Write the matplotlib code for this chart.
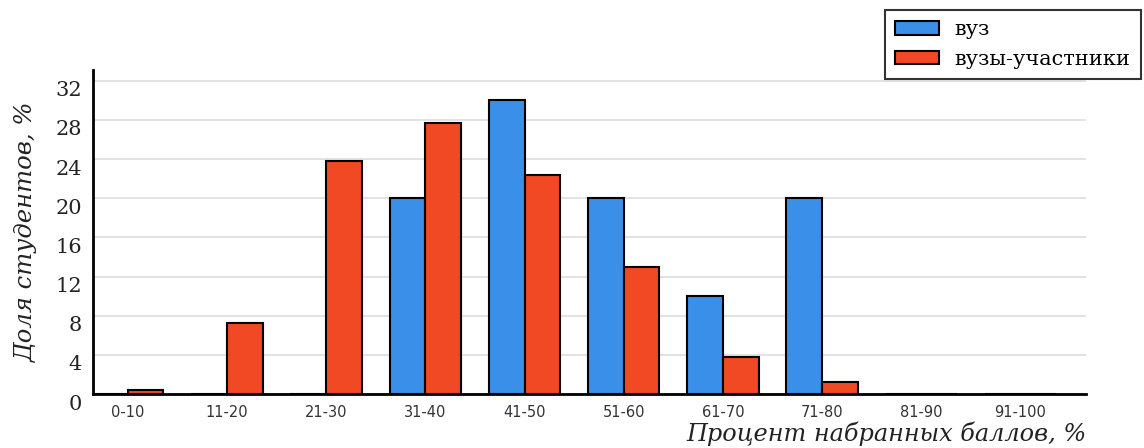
import matplotlib
matplotlib.use("Agg")
import matplotlib.pyplot as plt
import matplotlib.transforms as mtransforms
import numpy as np

categories = ["0-10", "11-20", "21-30", "31-40", "41-50", "51-60", "61-70", "71-80", "81-90", "91-100"]
vuz = [0, 0, 0, 20, 30, 20, 10, 20, 0, 0]
vuzy_uch = [0.4, 7.3, 23.8, 27.7, 22.4, 13.0, 3.8, 1.2, 0, 0]
yticks = [0, 4, 8, 12, 16, 20, 24, 28, 32]

SERIF = "DejaVu Serif"

fig = plt.figure(figsize=(11.44, 4.48), dpi=100)
ax = fig.add_axes([93/1144, 1 - 394/448, (1086-93)/1144, (394-70)/448])

x = np.arange(len(categories))
w = 0.36
ax.bar(x - w/2, vuz, w, color="#3a8fe8", edgecolor="black", linewidth=1.5, label="вуз", zorder=3)
ax.bar(x + w/2, vuzy_uch, w, color="#f04923", edgecolor="black", linewidth=1.5, label="вузы-участники", zorder=3)

ax.set_xlim(-0.35, 9.66)
ax.set_ylim(0, 33.1)
ax.set_yticks(yticks)
ax.set_xticks(x)
ax.set_xticklabels(categories, fontsize=10.5, family="DejaVu Sans", color="#333333")
ax.tick_params(axis="both", length=0)
ax.tick_params(axis="x", pad=8)
ax.tick_params(axis="y", pad=8)
for lab in ax.get_yticklabels():
    lab.set_family(SERIF)
    lab.set_fontsize(15)
    lab.set_color("#222222")
offset = mtransforms.ScaledTranslation(0, -8/100, fig.dpi_scale_trans)
for lab in ax.get_yticklabels():
    lab.set_transform(lab.get_transform() + offset)

ax.grid(axis="y", color="#dddddd", linewidth=1.2, zorder=0)
ax.set_axisbelow(True)
for s in ["top", "right"]:
    ax.spines[s].set_visible(False)
ax.spines["left"].set_linewidth(2)
ax.spines["bottom"].set_linewidth(2)

ax.set_ylabel("Доля студентов, %", family=SERIF, style="italic", fontsize=17.5, color="#222222")
ax.yaxis.set_label_coords(-0.056, 0.5)
ax.set_xlabel("Процент набранных баллов, %", family=SERIF, style="italic", fontsize=17.3, color="#222222")
ax.xaxis.set_label_coords(1.0, -0.085)
ax.xaxis.label.set_horizontalalignment("right")
ax.xaxis.label.set_verticalalignment("top")

leg = fig.legend(loc="upper right", bbox_to_anchor=(1141/1144, 1 - 10/448),
                 prop={"family": SERIF, "size": 15}, frameon=True, fancybox=False,
                 handlelength=2.1, handleheight=0.65, borderpad=0.5, labelspacing=0.5,
                 handletextpad=0.75, borderaxespad=0)
leg.get_frame().set_edgecolor("black")
leg.get_frame().set_linewidth(1.5)

fig.savefig("out.png", dpi=100)
